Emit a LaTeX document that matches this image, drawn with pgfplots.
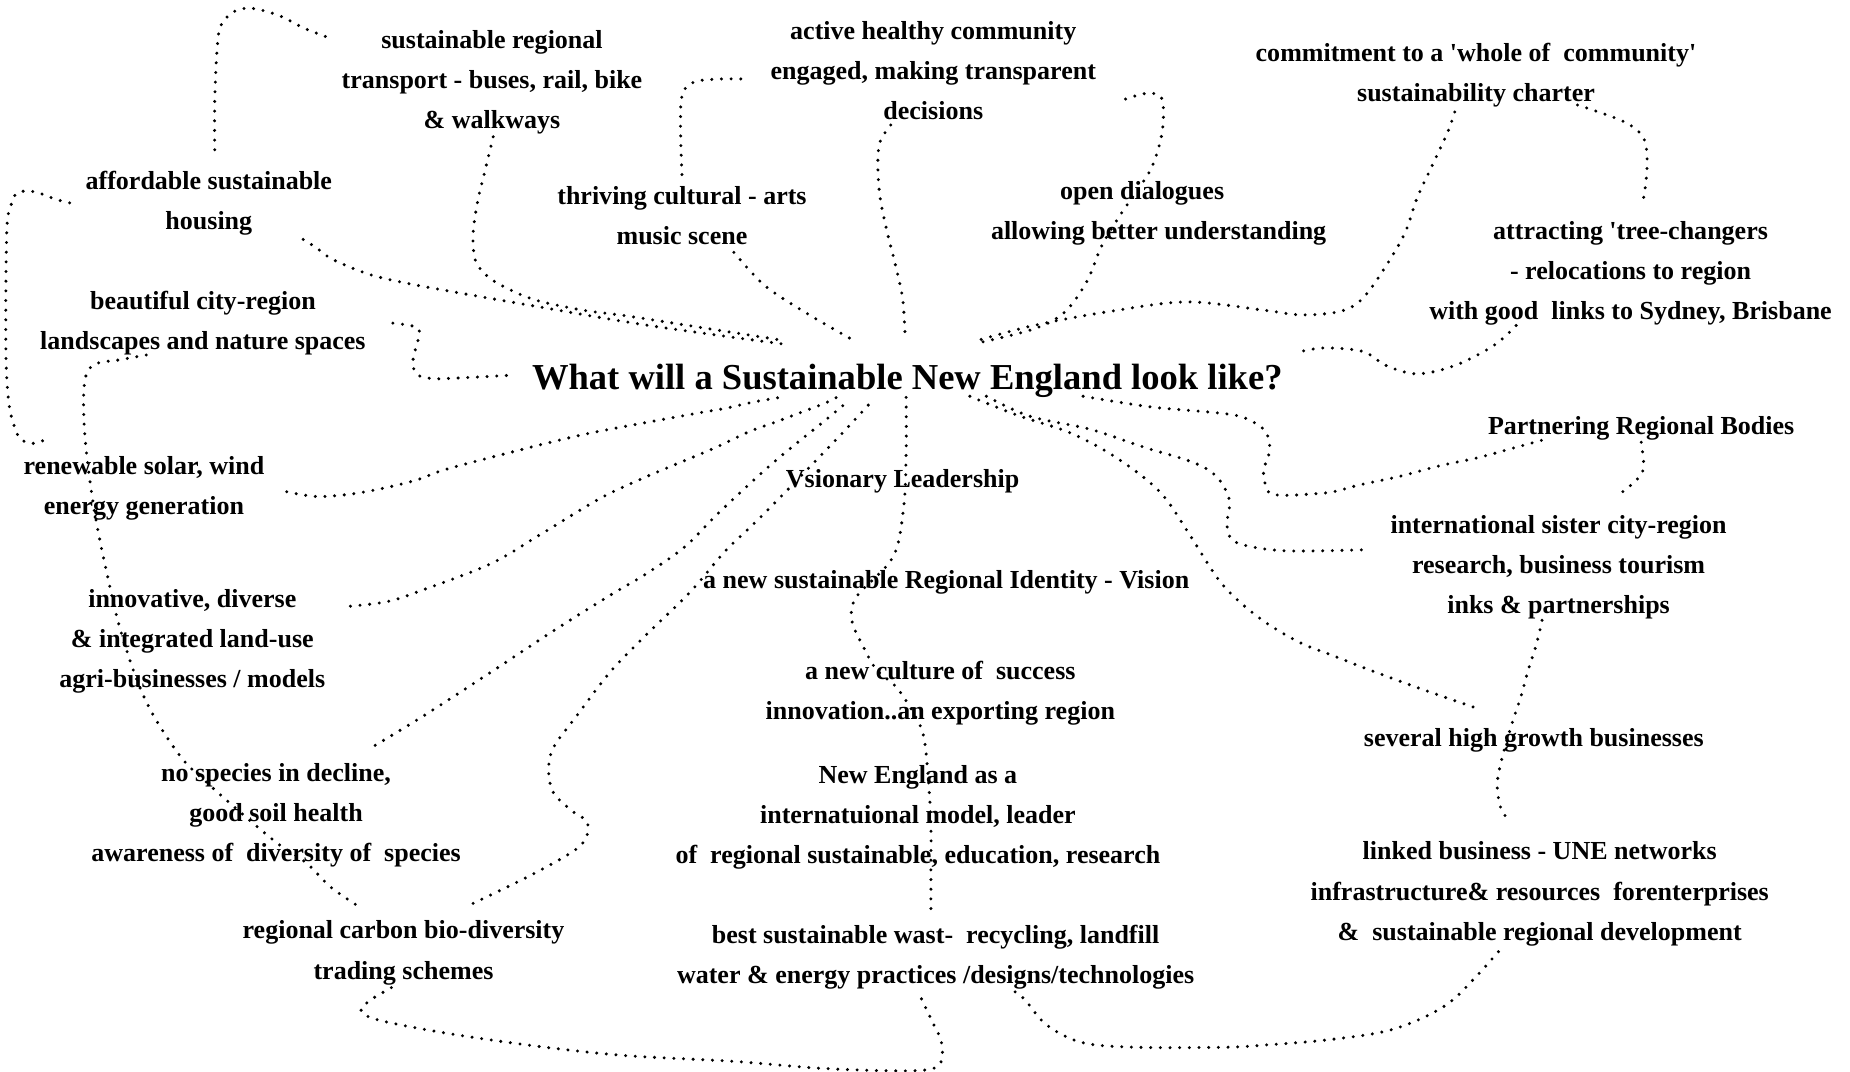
\documentclass[border=0pt]{standalone}
\usepackage{fontspec}
\setmainfont{Liberation Serif}
\usepackage{pgfplots}
\pgfplotsset{compat=1.18}
\tikzset{lbl/.style={font=\fontsize{7.4}{11.4}\selectfont\bfseries, align=center, inner sep=0pt, text=black, yshift=-1pt},
  dl/.style={black, line width=0.95pt, line cap=round, dash pattern=on 0pt off 2.75pt, smooth, tension=0.55, mark=none}}
\begin{document}
\begin{tikzpicture}
\path[use as bounding box] (0,0) rectangle (185mm,107.2mm);
\begin{axis}[
  at={(0,0)}, anchor=south west,
  scale only axis, width=185mm, height=107.2mm,
  xmin=0, xmax=1568, ymin=0, ymax=909, y dir=reverse,
  hide axis, clip=false,
]
% ---- dotted connectors (shrunk-pixel coordinates, y downward)
\addplot[dl] coordinates {(182,127) (182,85) (184,42) (187,22) (198,10) (213,7) (236,13) (258,24) (276,31)};
\addplot[dl] coordinates {(59,172) (47,169) (37,165) (25,162) (14,164) (9,175) (6,190) (5,240) (5,297) (6,325) (8,345) (11,358) (17,372) (28,376) (38,373)};
\addplot[dl] coordinates {(124,301) (102,305) (80,309) (72,322) (71,353) (74,390) (81,439) (91,488) (102,534) (117,579) (132,610) (155,644) (178,666) (204,689) (235,715) (260,732) (280,752) (303,768)};
\addplot[dl] coordinates {(333,274) (354,278) (354,290) (351,300) (350,311) (356,319) (367,321) (378,321) (437,318)};
\addplot[dl] coordinates {(257,203) (268,210) (282,220) (311,232) (339,239) (376,246) (450,259) (550,276) (666,292)};
\addplot[dl] coordinates {(418,116) (412,141) (405,170) (401,198) (403,221) (414,235) (433,246) (456,255) (494,263) (532,268) (596,278) (666,289)};
\addplot[dl] coordinates {(578,148) (577,120) (577,90) (580,76) (590,69) (610,67) (635,67)};
\addplot[dl] coordinates {(622,214) (648,242) (681,264) (710,281) (726,290)};
\addplot[dl] coordinates {(755,106) (746,120) (744,140) (746,168) (752,197) (759,225) (765,253) (767,282)};
\addplot[dl] coordinates {(954,84) (973,79) (985,84) (985,112) (977,140) (967,157) (951,180) (934,208) (921,239) (902,265) (876,279) (828,291)};
\addplot[dl] coordinates {(1233,95) (1227,112) (1214,140) (1201,168) (1191,197) (1175,225) (1155,253) (1136,264) (1103,267) (1071,263) (1006,256) (941,264) (876,276) (824,290)};
\addplot[dl] coordinates {(1337,89) (1376,103) (1393,117) (1396,140) (1393,168) (1389,172)};
\addplot[dl] coordinates {(1285,276) (1266,293) (1233,310) (1201,317) (1175,310) (1155,298) (1123,295) (1103,298)};
\addplot[dl] coordinates {(918,336) (975,345) (1031,350) (1054,354) (1071,364) (1076,376) (1075,387) (1071,398) (1072,409) (1076,418) (1088,420) (1110,419) (1130,417) (1153,411) (1186,404) (1220,395) (1253,388) (1286,379) (1308,373)};
\addplot[dl] coordinates {(1391,375) (1393,397) (1386,408) (1370,421)};
\addplot[dl] coordinates {(836,336) (873,353) (924,364) (969,379) (1011,392) (1031,404) (1042,424) (1040,446) (1048,460) (1088,467) (1161,466)};
\addplot[dl] coordinates {(822,336) (862,352) (907,367) (946,388) (983,417) (1008,453) (1031,489) (1048,508) (1073,528) (1102,545) (1130,556) (1158,567) (1204,584) (1253,601)};
\addplot[dl] coordinates {(1307,526) (1302,547) (1295,569) (1289,591) (1282,612) (1273,643) (1269,666) (1273,688) (1282,696)};
\addplot[dl] coordinates {(1270,807) (1253,826) (1230,849) (1204,864) (1172,875) (1123,882) (1074,886) (1038,888) (962,888) (917,884) (887,869) (868,847) (857,839)};
\addplot[dl] coordinates {(781,847) (790,866) (798,884) (796,903) (773,908) (698,906) (622,900) (529,895) (454,887) (378,876) (321,865) (306,857) (314,848) (329,839) (336,835)};
\addplot[dl] coordinates {(768,337) (768,384) (766,429) (757,472) (726,506) (722,526) (732,549) (743,568) (760,583) (775,606) (783,625) (787,663) (789,700) (789,734) (789,772)};
\addplot[dl] coordinates {(243,417) (268,421) (297,419) (325,414) (353,407) (378,398) (435,383) (492,369) (549,358) (593,350) (616,346) (638,341) (661,337)};
\addplot[dl] coordinates {(297,514) (329,510) (359,500) (416,478) (460,452) (508,423) (546,405) (603,381) (635,366) (657,358) (678,350) (699,342) (709,337)};
\addplot[dl] coordinates {(318,632) (359,607) (416,570) (472,533) (520,503) (547,487) (580,464) (610,434) (650,397) (675,376) (695,360) (712,346) (720,339)};
\addplot[dl] coordinates {(401,766) (454,740) (492,717) (498,698) (484,687) (469,672) (465,653) (469,634) (488,608) (517,570) (547,539) (585,502) (614,468) (638,445) (662,421) (693,389) (717,364) (740,339)};
% ---- labels
\node[lbl] at (axis cs:417,67) {sustainable regional\\transport - buses, rail, bike\\\& walkways};
\node[lbl] at (axis cs:791,57) {active healthy community\\engaged, making transparent\\decisions};
\node[lbl] at (axis cs:1251,61) {commitment to a \textquotesingle whole of~ community\textquotesingle\\sustainability charter};
\node[lbl] at (axis cs:177,169) {affordable sustainable\\housing};
\node[lbl] at (axis cs:578,180) {thriving cultural - arts\\music scene};
\node[lbl] at (axis cs:968,161) {open dialogues};
\node[lbl] at (axis cs:982,195) {allowing better understanding};
\node[lbl] at (axis cs:1382,229) {attracting \textquotesingle tree-changers\\- relocations to region\\with good~ links to Sydney, Brisbane};
\node[lbl] at (axis cs:172,271) {beautiful city-region\\landscapes and nature spaces};
\node[font=\fontsize{10.4}{12}\selectfont\bfseries, inner sep=0pt, yshift=-1pt] at (axis cs:769,320) {What will a Sustainable New England look like?};
\node[lbl] at (axis cs:1391,360) {Partnering Regional Bodies};
\node[lbl] at (axis cs:122,411) {renewable solar, wind\\energy generation};
\node[lbl] at (axis cs:765,405) {Vsionary Leadership};
\node[lbl] at (axis cs:1321,478) {international sister city-region\\research, business tourism\\inks \& partnerships};
\node[lbl] at (axis cs:802,491) {a new sustainable Regional Identity - Vision};
\node[lbl] at (axis cs:163,541) {innovative, diverse\\\& integrated land-use\\agri-businesses / models};
\node[lbl] at (axis cs:797,585) {a new culture of~ success\\innovation..an exporting region};
\node[lbl] at (axis cs:1300,625) {several high growth businesses};
\node[lbl] at (axis cs:778,690) {New England as a\\internatuional model, leader\\of~ regional sustainable, education, research};
\node[lbl] at (axis cs:234,688) {no species in decline,\\good soil health\\awareness of~ diversity of~ species};
\node[lbl] at (axis cs:1305,755) {linked business - UNE networks\\infrastructure\& resources~ forenterprises\\\&~ sustainable regional development};
\node[lbl] at (axis cs:342,805) {regional carbon bio-diversity\\trading schemes};
\node[lbl] at (axis cs:793,809) {best sustainable wast-~ recycling, landfill\\water \& energy practices /designs/technologies};
\end{axis}
\end{tikzpicture}
\end{document}
